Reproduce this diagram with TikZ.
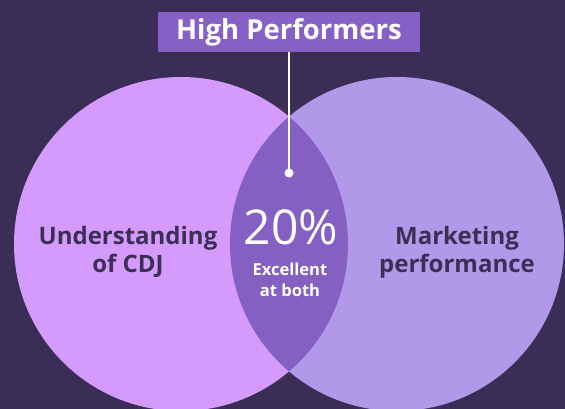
\documentclass[tikz,border=0pt]{standalone}
\usepackage{fontspec}
\setmainfont{Open Sans}
\definecolor{bgc}{HTML}{3A2E56}
\definecolor{leftc}{HTML}{D49BFC}
\definecolor{rightc}{HTML}{B298E9}
\definecolor{lensc}{HTML}{8460C2}
\definecolor{boxc}{HTML}{8660C4}
\definecolor{darktxt}{HTML}{3B2F56}
\tikzset{
  lbl/.style={text=darktxt, font=\fontsize{24}{28}\selectfont\bfseries, align=center},
  wlbl/.style={text=white, align=center, inner sep=0pt},
}
\begin{document}
\begin{tikzpicture}[x=1pt,y=-1pt]
\fill[bgc] (0,0) rectangle (565,409);
\useasboundingbox (0,0) rectangle (565,409);
\fill[leftc] (181,244) circle[radius=167];
\fill[rightc] (397,244) circle[radius=167];
\begin{scope}
  \clip (181,244) circle[radius=167];
  \fill[lensc] (397,244) circle[radius=167];
\end{scope}
\node[fill=boxc, minimum width=262pt, minimum height=40pt, inner sep=0pt, text=white,
      font=\fontsize{27.5}{30}\selectfont\bfseries] (title) at (289,32) {High Performers};
\node[circle, fill=white, minimum size=9pt, inner sep=0pt] (dot) at (289,173) {};
\draw[white, line width=1.6pt] (title.south) -- (dot.center);
\node[lbl] (left) at (128,252) {Understanding\\of CDJ};
\node[lbl] (right) at (457,252) {Marketing\\performance};
\node[wlbl, font=\fontsize{48}{48}\selectfont, anchor=base] (pct) at (291,244) {20\%};
\node[wlbl, font=\fontsize{16.5}{21}\selectfont\bfseries, anchor=base] (exc) at (290,275) {Excellent};
\node[wlbl, font=\fontsize{16.5}{21}\selectfont\bfseries, anchor=base] (both) at (290,296) {at both};
\end{tikzpicture}
\end{document}
